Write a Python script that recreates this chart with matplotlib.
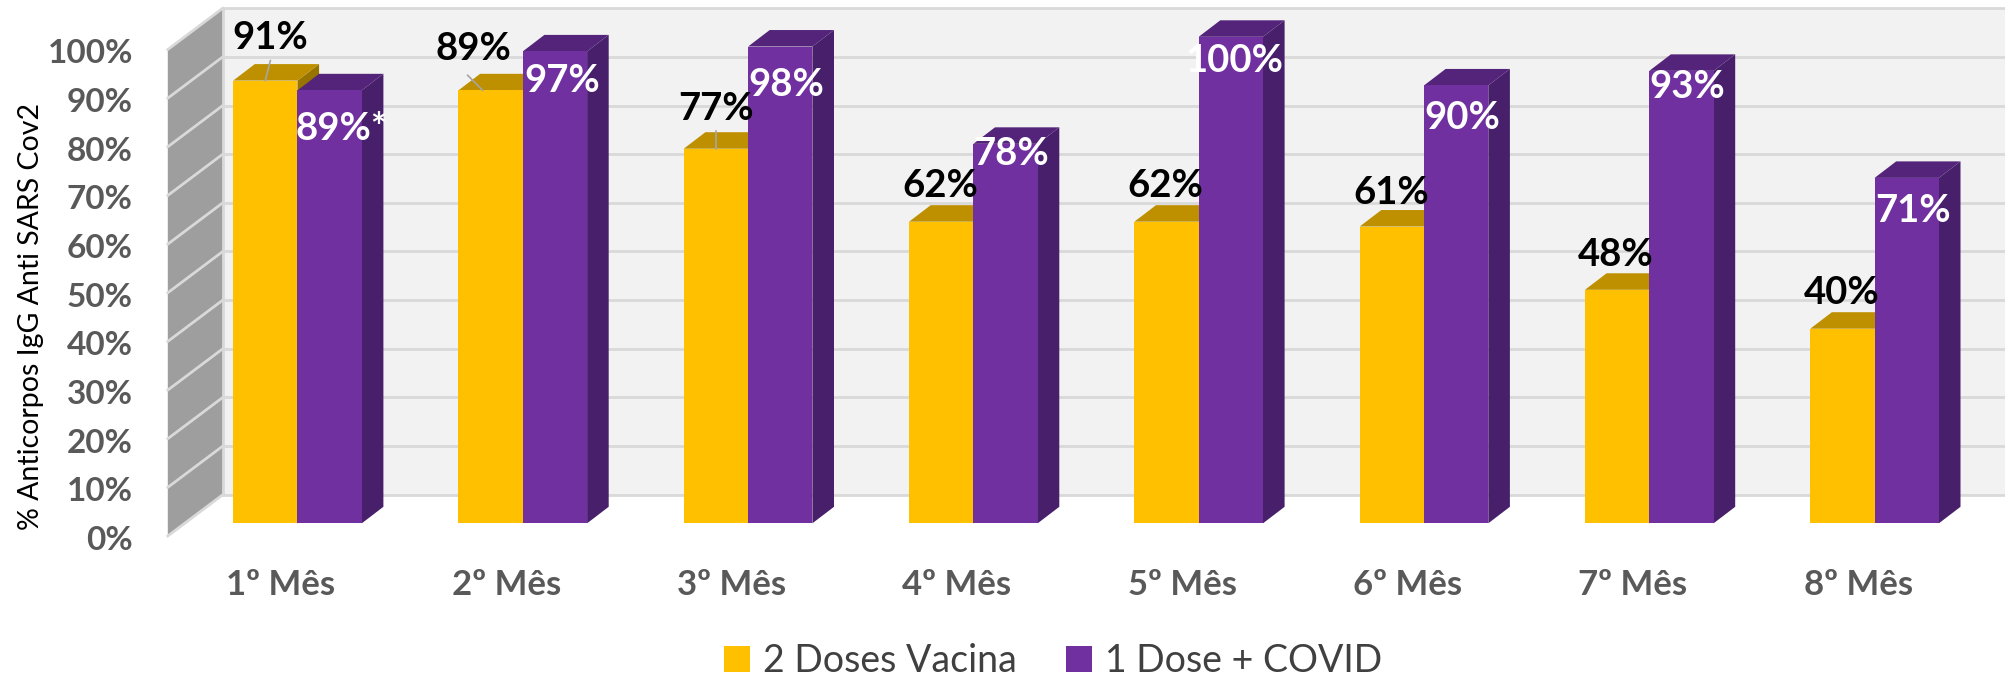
import matplotlib
matplotlib.use('Agg')
import matplotlib.pyplot as plt
from matplotlib.patches import Polygon

plt.rcParams['font.family'] = ['Lato', 'DejaVu Sans']

months = ['1º Mês', '2º Mês', '3º Mês', '4º Mês', '5º Mês', '6º Mês', '7º Mês', '8º Mês']
doses_2 = [91, 89, 77, 62, 62, 61, 48, 40]
dose_covid = [89, 97, 98, 78, 100, 90, 93, 71]
y_ticks = [0, 10, 20, 30, 40, 50, 60, 70, 80, 90, 100]
purple_text = ['89%*', '97%', '98%', '78%', '100%', '90%', '93%', '71%']

# label offsets in pixels from the top of each bar
gold_shift = [(5, 43), (-17, 41), (0, 40), (-1, 36), (-1, 36), (-1, 34), (-1, 35), (-1, 36)]
purple_shift = [(12, -39), (7, -30), (6, -38), (6, -10), (4, -24), (6, -33), (6, -16), (6, -33)]
# leader lines (px from bar top, centre of gold bar = 0)
leaders = {0: ((5, 20), (0, 0)), 1: ((-23, 15), (-8, 0)), 2: ((0, 18), (0, 0))}

PX_X = 225.3   # pixels per month
PX_Y = 4.865   # pixels per percent
W, H = 2006, 678
X0, Y0 = 297.5, 523.3
bar_w = 64.3 / PX_X
dx, dy = 21.6 / PX_X, 16.5 / PX_Y

GOLD = ['#FFC000', '#BE9000', '#997300']
PURPLE = ['#7030A0', '#54247A', '#471F6B']
GRID = '#D9D9D9'
TICK = '#595959'


def draw_bar(ax, x, v, cols):
    # x = left edge of the front face
    ax.add_patch(Polygon([(x + bar_w, 0), (x + bar_w + dx, dy), (x + bar_w + dx, v + dy), (x + bar_w, v)],
                         fc=cols[2], ec='none', zorder=3))
    ax.add_patch(Polygon([(x, v), (x + dx, v + dy), (x + bar_w + dx, v + dy), (x + bar_w, v)],
                         fc=cols[1], ec='none', zorder=3))
    return ax.bar(x, v, bar_w, align='edge', color=cols[0], zorder=3)


def main():
    fig = plt.figure(figsize=(W / 100, H / 100), dpi=100)
    ax = fig.add_axes([0, 0, 1, 1])
    ax.set_xlim(-X0 / PX_X, (W - X0) / PX_X)
    ax.set_ylim((Y0 - H) / PX_Y, Y0 / PX_Y)
    ax.axis('off')

    # back wall
    wall_l = (167.8 - X0) / PX_X
    wall_b = (222.8 - X0) / PX_X
    y_front = (Y0 - 536) / PX_Y
    y_back = (Y0 - 494.7) / PX_Y
    right = ax.get_xlim()[1]
    ax.fill_between([wall_b, right], y_back, y_back + 100, color='#F2F2F2', lw=0, zorder=1)
    ax.add_patch(Polygon([(wall_l, y_front), (wall_b, y_back), (wall_b, y_back + 100), (wall_l, y_front + 100)],
                         fc='#9E9E9E', ec='none', zorder=1))
    for t in y_ticks:
        ax.plot([wall_b, right], [y_back + t, y_back + t], color=GRID, lw=2, zorder=2)
        ax.plot([wall_l, wall_b], [y_front + t, y_back + t], color=GRID, lw=2, zorder=2)
        ax.text(wall_l - 35 / PX_X, y_front + t - 0.4, f'{t}%', ha='right', va='center_baseline',
                fontsize=24, fontweight='bold', color=TICK)
    ax.plot([wall_b, wall_b], [y_back, y_back + 100], color=GRID, lw=2, zorder=2)

    for i, m in enumerate(months):
        h_gold = draw_bar(ax, i - bar_w, doses_2[i], GOLD)
        h_purple = draw_bar(ax, i, dose_covid[i], PURPLE)
        ax.text(i - 16.5 / PX_X, (Y0 - 585) / PX_Y, m, ha='center', va='center',
                fontsize=25, fontweight='bold', color=TICK)

        ax.annotate(f'{doses_2[i]}%', (i - bar_w / 2, doses_2[i]), xytext=gold_shift[i],
                    textcoords='offset pixels', ha='center', va='center', fontsize=27.5,
                    fontweight='bold', color='black', zorder=6)
        ax.annotate(purple_text[i], (i + bar_w / 2, dose_covid[i]), xytext=purple_shift[i],
                    textcoords='offset pixels', ha='center', va='center', fontsize=27.5,
                    fontweight='bold', color='white', zorder=6)
        if i in leaders:
            (x1, y1), (x2, y2) = leaders[i]
            ax.plot([i - bar_w / 2 + x1 / PX_X, i - bar_w / 2 + x2 / PX_X],
                    [doses_2[i] + y1 / PX_Y, doses_2[i] + y2 / PX_Y],
                    color='#A6A6A6', lw=1.2, zorder=5)

    ax.text(31 / PX_X - X0 / PX_X, (Y0 - 316) / PX_Y, '% Anticorpos IgG Anti SARS Cov2',
            rotation=90, ha='center', va='center', fontsize=20.5, color='black')

    ax.legend([h_gold[0], h_purple[0]], ['2 Doses Vacina', '1 Dose + COVID'], loc='center',
              bbox_to_anchor=(1053 / W, 1 - 661 / H), ncol=2, frameon=False, fontsize=27,
              handlelength=0.7, handleheight=0.7, handletextpad=0.35, columnspacing=1.3,
              labelcolor='#404040', borderpad=0)

    plt.savefig('out.png', dpi=100, facecolor='white')
    plt.close()


if __name__ == "__main__":
    main()
